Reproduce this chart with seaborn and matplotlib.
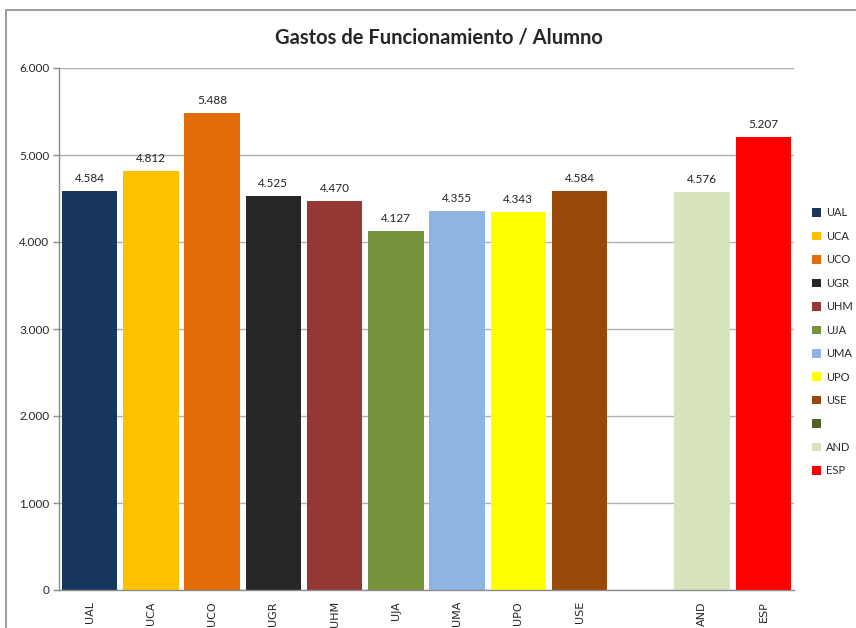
import matplotlib
matplotlib.use('Agg')
import matplotlib.pyplot as plt
import seaborn as sns
import pandas as pd
import numpy as np
from matplotlib.patches import Patch, Rectangle

# datos del gráfico
universidades = ['UAL', 'UCA', 'UCO', 'UGR', 'UHM', 'UJA', 'UMA', 'UPO', 'USE', ' ', 'AND', 'ESP']
gastos = [4584, 4812, 5488, 4525, 4470, 4127, 4355, 4343, 4584, np.nan, 4576, 5207]
colores = ['#17375E', '#FFC000', '#E36C09', '#262626', '#953735', '#77933C',
           '#8DB4E2', '#FFFF00', '#984807', '#4F6228', '#D7E4BD', '#FF0000']
y_ticks = [0, 1000, 2000, 3000, 4000, 5000, 6000]

df = pd.DataFrame({'univ': universidades, 'gasto': gastos})

sns.set_style('white')
plt.rcParams['font.family'] = ['Lato', 'DejaVu Sans']

fig = plt.figure(figsize=(8.56, 6.28), dpi=100)
ax = fig.add_axes([59 / 856, 1 - 590 / 628, (794 - 59) / 856, (590 - 68) / 628])

# marco del área del gráfico (estilo Excel)
fig.patches.append(Rectangle((6 / 856, -0.1), 1.2, 1 - 10 / 628 + 0.1, transform=fig.transFigure,
                             fill=False, edgecolor='#8c8c8c', linewidth=1.2))

sns.barplot(data=df, x='univ', y='gasto', hue='univ', order=universidades,
            hue_order=universidades, palette=colores, width=0.91,
            saturation=1, legend=False, linewidth=0, ax=ax)

# etiquetas de valor encima de cada barra
for cont in ax.containers:
    vals = cont.datavalues
    labels = ['' if np.isnan(v) else f'{v:,.0f}'.replace(',', '.') for v in vals]
    ax.bar_label(cont, labels=labels, padding=5, fontsize=8.5, color='#222222')

ax.set_xlim(-0.5, len(universidades) - 0.5)
ax.set_ylim(0, 6000)
ax.set_yticks(y_ticks)
ax.set_yticklabels([f'{v:,.0f}'.replace(',', '.') for v in y_ticks], fontsize=8.5)
ax.set_xticks(range(len(universidades)))
ax.set_xticklabels(universidades, rotation=90, fontsize=8, family='DejaVu Sans')
ax.set_xticks(np.arange(-0.5, len(universidades)), minor=True)
ax.tick_params(axis='x', which='major', length=0, pad=8)
ax.tick_params(axis='x', which='minor', length=5, color='#8c8c8c', width=1, direction='out')
ax.tick_params(axis='y', length=4, color='#8c8c8c', width=1, direction='out', pad=3, left=True)
ax.set_xlabel('')
ax.set_ylabel('')

ax.yaxis.grid(True, color='#b0b0b0', linewidth=1)
ax.set_axisbelow(True)
for s in ['top', 'right']:
    ax.spines[s].set_visible(False)
for s in ['left', 'bottom']:
    ax.spines[s].set_color('#8c8c8c')
    ax.spines[s].set_linewidth(1)

fig.text(439 / 856, 1 - 38 / 628, 'Gastos de Funcionamiento / Alumno',
         ha='center', va='center', fontsize=14.5, fontweight='bold')

# leyenda
handles = [Patch(facecolor=c, edgecolor='none') for c in colores]
fig.legend(handles, universidades, loc='upper left', bbox_to_anchor=(808 / 856, 1 - 203 / 628),
           frameon=False, fontsize=8, handlelength=0.8, handleheight=0.8,
           handletextpad=0.4, labelspacing=1.12, borderaxespad=0)

plt.savefig('out.png', dpi=100)
